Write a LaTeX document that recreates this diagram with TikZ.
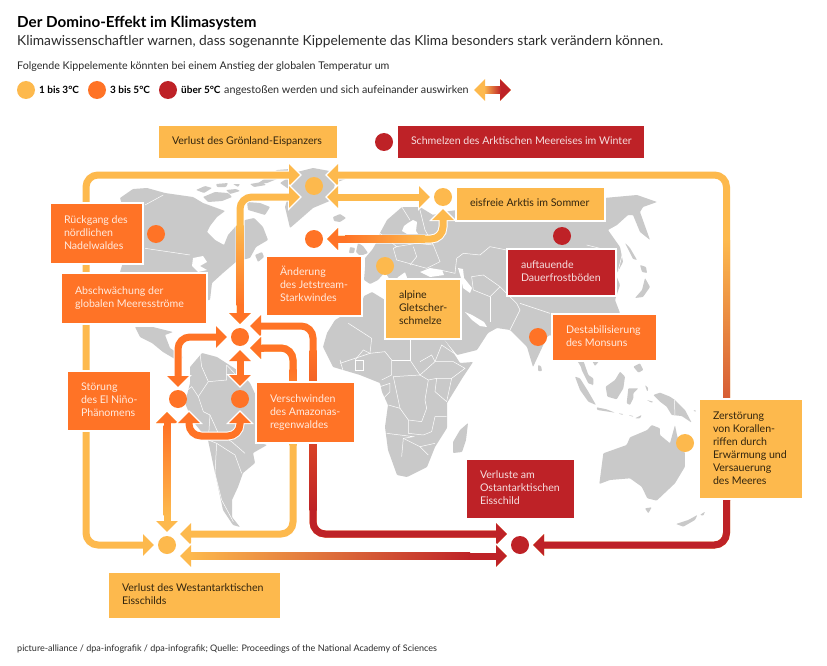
\documentclass[tikz,border=0pt]{standalone}
\usepackage{fontspec}
\setmainfont{Lato}
\usetikzlibrary{arrows.meta,calc}
\definecolor{kyel}{HTML}{FDB94D}
\definecolor{kora}{HTML}{FF7326}
\definecolor{kred}{HTML}{BE2227}
\definecolor{kmap}{HTML}{C9C9C9}
\definecolor{ktxt}{HTML}{2B2B2B}
\tikzset{
  tipn/.tip={Triangle[length=11pt,width=21pt]},
  htip/.tip={Triangle[length=14pt,width=27pt]},
  conn/.style={line width=7pt,rounded corners=12pt,{tipn}-{tipn},
    preaction={draw=white,line width=9pt,{htip}-{htip},shorten >=-2pt,shorten <=-2pt}},
  over/.style={line width=7pt,rounded corners=12pt,-{tipn}},
  dot/.style={circle,minimum size=18pt,inner sep=0pt},
  ydot/.style={dot,fill=kyel},
  odot/.style={dot,fill=kora},
  rdot/.style={dot,fill=kred},
  kb/.style={rectangle,draw=white,line width=2.4pt,inner sep=0pt,outer sep=0pt,font=\fontsize{10.6}{13}\selectfont},
  ybox/.style={kb,fill=kyel,text=black!80!kyel},
  obox/.style={kb,fill=kora,text=white!85!kora},
  rbox/.style={kb,fill=kred,text=white!85!kred},
  land/.style={fill=kmap,rounded corners=0.8pt},
  bd/.style={draw=white,line width=0.5pt},
  tx/.style={anchor=base west,inner sep=0pt,text=ktxt},
}
\newcommand\kbox[8]{%
  \pgfmathsetmacro\kw{#5-#3}\pgfmathsetmacro\kh{#6-#4}%
  \node[#2,minimum width=\kw pt+2.4pt,minimum height=\kh pt+2.4pt] (#1) at ({(#3+#5)/2},{(#4+#6)/2})
    {\makebox[\kw pt][l]{\hspace*{#7pt}\raisebox{-1pt}{\begin{tabular}{@{}l@{}}#8\end{tabular}}}};}
\newcommand\vs[5]{\shade[top color=#4,bottom color=#5] (#1-3.5,#2) rectangle (#1+3.5,#3);}
\newcommand\hs[5]{\shade[left color=#4,right color=#5] (#2,#1-3.5) rectangle (#3,#1+3.5);}
\begin{document}
\begin{tikzpicture}[x=1pt,y=-1pt]
\useasboundingbox (0,0) rectangle (827,666);
\fill[white] (0,0) rectangle (827,666);
% ---------- map ----------
% North America
\fill[land] (120,198)--(133,189)--(147,188)--(165,193)--(193,197)--(203,203)--(225,211)--(217,217)--(210,226)--(207,232)--(215,240)--(224,245)--(228,235)--(236,226)--(245,220)--(254,218)--(263,227)--(268,240)--(256,247)--(250,258)--(237,261)--(223,273)--(212,283)--(210,300)--(150,300)--(120,272)--(130,240)--(125,215)--cycle;
\fill[white] (193,258)--(203,256)--(207,262)--(200,266)--(207,270)--(198,272)--(192,266)--cycle;
\fill[land] (255,255)--(262,252)--(264,257)--(258,262)--cycle;
\fill[land] (135,327)--(153,327)--(173,332)--(165,335)--(170,348)--(183,357)--(180,362)--(163,352)--(152,343)--(140,337)--cycle;
% Arctic islands
\fill[land] (196,190)--(205,186)--(212,188)--(204,193)--cycle;
\fill[land] (216,184)--(228,183)--(226,187)--(217,187)--cycle;
\fill[land] (233,184)--(240,184)--(238,187)--cycle;
\fill[land] (250,184)--(262,182)--(266,185)--(254,187)--cycle;
\fill[land] (203,197)--(215,192)--(228,193)--(232,197)--(222,201)--(208,202)--cycle;
\fill[land] (226,190)--(236,189)--(240,191)--(230,194)--cycle;
\fill[land] (247,202)--(260,203)--(270,207)--(265,215)--(255,212)--(248,210)--cycle;
\fill[land] (257,184)--(277,170)--(290,169)--(287,175)--(267,183)--cycle;
% Greenland, Iceland
\fill[land] (280,183)--(297,172)--(313,168)--(335,172)--(348,178)--(335,183)--(332,200)--(313,208)--(297,222)--(290,228)--(285,207)--(290,190)--cycle;
\fill[land] (333,217)--(340,214)--(346,218)--(340,222)--(334,221)--cycle;
% British Isles
\fill[land] (358,243)--(363,246)--(368,253)--(360,256)--(356,252)--cycle;
\fill[land] (350,247)--(355,248)--(354,253)--(349,253)--cycle;
% Eurasia
\fill[land] (365,258)--(372,250)--(378,240)--(380,233)--(387,220)--(402,207)--(420,207)--(433,215)--(443,212)--(457,210)--(510,188)--(570,188)--(604,198)--(637,195)--(657,202)--(643,207)--(640,212)--(650,240)--(640,232)--(633,215)--(628,215)--(617,225)--(608,230)--(620,247)--(623,262)--(616,275)--(620,285)--(615,300)--(620,313)--(610,330)--(600,350)--(585,345)--(580,360)--(590,378)--(593,386)--(586,375)--(578,362)--(565,345)--(550,335)--(547,337)--(533,367)--(527,347)--(510,330)--(497,328)--(488,333)--(477,350)--(457,355)--(443,338)--(432,318)--(440,300)--(425,287)--(415,282)--(410,285)--(405,272)--(398,277)--(392,283)--(385,272)--(378,280)--(370,284)--(364,280)--(365,268)--cycle;
\fill[white] (408,223)--(413,220)--(417,222)--(416,231)--(418,234)--(407,234)--(402,231)--(404,226)--cycle;
\fill[white] (420,272)--(430,268)--(442,270)--(444,275)--(430,277)--cycle;
\fill[white] (458,268)--(463,269)--(464,278)--(472,288)--(470,293)--(463,288)--(461,278)--cycle;
\fill[white] (465,312)--(472,315)--(484,322)--(487,327)--(480,326)--(472,320)--cycle;
\fill[land] (625,243)--(630,248)--(637,260)--(633,259)--cycle;
\fill[land] (640,265)--(646,267)--(647,273)--(642,272)--cycle;
\fill[land] (645,278)--(650,287)--(643,297)--(635,298)--(642,290)--cycle;
\fill[land] (538,365)--(541,366)--(542,371)--(538,371)--cycle;
% Africa
\fill[land] (327,333)--(335,320)--(347,313)--(360,308)--(364,296)--(372,292)--(385,300)--(440,300)--(443,338)--(453,352)--(460,363)--(473,362)--(463,377)--(447,403)--(447,428)--(435,447)--(427,467)--(407,477)--(397,475)--(388,450)--(385,427)--(388,405)--(382,392)--(380,383)--(360,375)--(333,367)--(323,347)--cycle;
\fill[land] (468,423)--(466,440)--(462,452)--(453,453)--(453,442)--(460,430)--cycle;
% South America
\fill[land] (190,367)--(202,353)--(217,357)--(237,370)--(250,383)--(258,400)--(257,442)--(267,445)--(253,453)--(255,463)--(243,473)--(238,487)--(232,500)--(232,517)--(240,527)--(233,525)--(223,510)--(215,473)--(208,440)--(192,420)--(185,403)--(190,383)--cycle;
% Australia and Southeast Asia
\begin{scope}[shift={(560,350)},x=.3333pt,y=-.3333pt]
\fill[land] (118,402)--(130,310)--(200,285)--(210,262)--(262,240)--(275,225)--(300,235)--(300,255)--(330,280)--(345,225)--(352,260)--(375,310)--(375,350)--(345,400)--(290,452)--(262,445)--(245,410)--(210,385)--(150,390)--cycle;
\fill[land] (255,475)--(275,472)--(265,490)--cycle;
\fill[land] (348,522)--(385,510)--(412,495)--(405,510)--(370,530)--cycle;
\fill[land] (420,495)--(435,485)--(430,497)--cycle;
\fill[land] (280,135)--(300,128)--(330,140)--(345,150)--(375,180)--(395,218)--(365,198)--(335,195)--(320,170)--(300,155)--cycle;
\fill[land] (45,80)--(60,85)--(85,125)--(108,165)--(85,155)--(60,120)--cycle;
\fill[land] (137,110)--(165,90)--(180,65)--(195,80)--(190,115)--(170,148)--(142,140)--cycle;
\fill[land] (205,115)--(235,115)--(220,130)--(220,145)--(210,165)--(200,160)--cycle;
\fill[land] (110,172)--(140,178)--(165,188)--(145,185)--(112,180)--cycle;
\fill[land] (175,190)--(190,192)--(188,195)--cycle;
\fill[land] (205,195)--(220,198)--(218,200)--cycle;
\fill[land] (225,205)--(245,195)--(240,205)--cycle;
\fill[land] (260,150)--(280,155)--(275,158)--cycle;
\fill[land] (255,105)--(265,115)--(262,125)--cycle;
\fill[land] (400,180)--(410,183)--(403,185)--cycle;
\fill[land] (60,35)--(70,32)--(85,75)--(100,85)--(100,105)--(85,100)--(65,60)--cycle;
\fill[land] (95,30)--(120,30)--(105,48)--cycle;
\fill[land] (220,50)--(240,40)--(250,60)--(235,68)--cycle;
\draw[bd] (343,150)--(345,195);
\end{scope}
% borders
\begin{scope}[shift={(100,160)},x=.3333pt,y=-.3333pt]
\draw[bd] (135,135)--(190,105);
\draw[bd] (135,265)--(270,285);
\end{scope}
\begin{scope}[shift={(160,340)},x=.3333pt,y=-.3333pt]
\draw[bd] (120,40)--(125,80)--(145,125)--(115,170)--(130,215)--(150,225)--(175,280)--(215,305)--(255,340);
\draw[bd] (70,160)--(95,140)--(115,170);
\draw[bd] (145,125)--(200,120)--(200,75);
\draw[bd] (170,310)--(165,400)--(185,480)--(220,545);
\draw[bd] (170,310)--(225,345)--(245,400);
\draw[bd] (150,225)--(145,300)--(170,310);
\draw[bd] (200,75)--(228,105);
\end{scope}
\begin{scope}[shift={(340,320)},x=.3333pt,y=-.3333pt]
\draw[bd] (0,130)--(90,100)--(95,55)--(25,10);
\draw[bd] (90,100)--(135,95)--(155,120)--(155,165)--(125,180);
\draw[bd] (155,120)--(210,120)--(210,60);
\draw[bd] (210,120)--(240,165)--(285,125)--(305,75)--(350,105);
\draw[bd] (240,165)--(160,170)--(180,265)--(145,255);
\draw[bd] (180,265)--(205,300)--(245,305)--(260,265)--(255,240)--(265,180)--(240,165);
\draw[bd] (265,180)--(290,175)--(285,215)--(320,245);
\draw[bd] (290,175)--(335,175)--(320,245);
\draw[bd] (335,175)--(375,145)--(340,125)--(285,125);
\draw[bd] (205,300)--(205,340)--(250,345)--(275,335)--(285,290)--(320,290);
\draw[bd] (140,340)--(220,350)--(190,355)--(185,410);
\draw[bd] (190,355)--(240,380)--(265,405);
\draw[bd] (240,380)--(285,370);
\draw[bd] (0,120)--(10,155);
\draw[bd] (45,120)--(70,120)--(70,150)--(45,150)--cycle;
\draw[bd] (90,100)--(70,90)--(45,120);
\draw[bd] (120,200)--(150,190)--(150,215)--(130,235);
\draw[bd] (285,125)--(275,105)--(240,125);
\end{scope}
\begin{scope}[shift={(330,190)},x=.3333pt,y=-.3333pt]
\draw[bd] (380,205)--(400,190)--(450,195)--(480,170)--(530,180);
\draw[bd] (280,250)--(330,240)--(375,250)--(380,205);
\draw[bd] (150,130)--(200,170)--(260,160)--(310,165)--(330,215)--(290,235)--(200,210)--(190,175)--(200,170);
\draw[bd] (250,170)--(260,200)--(240,225);
\draw[bd] (430,300)--(480,320)--(510,290);
\draw[bd] (480,320)--(480,395);
\draw[bd] (530,310)--(560,340)--(570,360)--(540,420);
\draw[bd] (570,340)--(660,370);
\draw[bd] (215,50)--(240,90);
\draw[bd] (270,60)--(285,120)--(310,165);
\draw[bd] (430,300)--(425,260)--(460,255)--(510,290)--(530,310);
\end{scope}
\begin{scope}[shift={(420,120)},x=.3333pt,y=-.3333pt]
\draw[bd] (500,375)--(540,385)--(590,410);
\draw[bd] (615,370)--(600,430)--(590,470);
\end{scope}
% ---------- dots ----------
\node[ydot] (dg) at (314,186) {};
\node[ydot] (da) at (443,197) {};
\node[odot] (dj) at (314,239) {};
\node[odot] (dn) at (156,234) {};
\node[ydot] (dl) at (385,266) {};
\node[rdot] (dp) at (562,236) {};
\node[rdot] (dw) at (384,142) {};
\node[odot] (dm) at (538,337) {};
\node[odot] (dk) at (240,337) {};
\node[odot] (de) at (178,399) {};
\node[odot] (dz) at (240,399) {};
\node[ydot] (dc) at (685,443) {};
\node[ydot] (dv) at (167,545) {};
\node[rdot] (do) at (520,545) {};
% ---------- connectors ----------
% Groenland <-> West Antarctic, left loop
\draw[conn,kyel] ($(dg)+(-14,-11)$) -- (86,175) -- (86,545) -- ($(dv)+(-13,0)$);
% Groenland <-> East Antarctic, right loop
\draw[conn,kyel] ($(dg)+(13,-11)$) -- (726.5,175) -- (726.5,545) -- ($(do)+(13,0)$);
\vs{726.5}{240}{500}{kyel}{kred}
\draw[over,kred] (726.5,499) -- (726.5,545) -- ($(do)+(13,0)$);
% Groenland <-> Arctic
\draw[conn,kyel] ($(dg)+(13,11)$) -- ($(da)+(-13,0)$);
% Groenland <-> Ocean currents
\draw[conn,kyel] ($(dg)+(-14,11)$) -- (240,197) -- ($(dk)+(0,-13)$);
\vs{240}{225}{305}{kyel}{kora}
\draw[over,kora] (240,304) -- ($(dk)+(0,-13)$);
% Jetstream <-> Arctic
\draw[conn,kyel] ($(dj)+(13,0)$) -- (443,239) -- ($(da)+(0,12)$);
\draw[over,kora] (346,239) -- ($(dj)+(13,0)$);
\hs{239}{345}{425}{kora}{kyel}
% Ocean currents <-> East Antarctic
\draw[conn,kora] ($(dk)+(10,-11)$) -- (313,326) -- (313,534) -- ($(do)+(-13,-11)$);
\vs{313}{350}{510}{kora}{kred}
\draw[over,kred] (313,509) -- (313,534) -- ($(do)+(-13,-11)$);
% Ocean currents <-> West Antarctic via Amazon
\draw[conn,kyel] ($(dk)+(10,11)$) -- (293,348) -- (293,534) -- ($(dv)+(13,-11)$);
\draw[over,kora,-] (293,370) -- (293,348) -- (262,348);
\draw[over,kora] (264,348) -- ($(dk)+(10,11)$);
\vs{293}{369}{445}{kora}{kyel}
% West <-> East Antarctic
\draw[conn,kyel] ($(dv)+(13,11)$) -- ($(do)+(-13,11)$);
\hs{556}{190}{470}{kyel}{kred}
\draw[over,kred] (469,556) -- ($(do)+(-13,11)$);
% El Nino <-> West Antarctic
\draw[conn,kyel] ($(de)+(-11,13)$) -- ($(dv)+(0,-13)$);
\draw[over,kora] (167,426) -- ($(de)+(-11,13)$);
\vs{167}{425}{515}{kora}{kyel}
% El Nino <-> Ocean currents
\draw[conn,kora] ($(de)+(0,-12)$) -- (178,337) -- ($(dk)+(-13,0)$);
% Ocean currents <-> Amazon
\draw[conn,kora] ($(dk)+(0,13)$) -- ($(dz)+(0,-13)$);
% El Nino <-> Amazon
\draw[conn,kora] ($(de)+(11,13)$) -- (189,436) -- (240,436) -- ($(dz)+(0,13)$);
% ---------- boxes ----------
\kbox{bg}{ybox}{159}{126}{337}{158}{13}{Verlust des Grönland-Eispanzers}
\kbox{bw}{rbox}{398}{126}{644}{158}{13}{Schmelzen des Arktischen Meereises im Winter}
\kbox{bn}{obox}{51}{204}{142}{263}{13}{Rückgang des\\nördlichen\\Nadelwaldes}
\kbox{bm}{obox}{62}{274}{206}{323}{13}{Abschwächung der\\globalen Meeresströme}
\kbox{bj}{obox}{267}{257}{361}{315}{13}{Änderung\\des Jetstream-\\Starkwindes}
\kbox{bl}{ybox}{386}{280}{460}{338}{13}{alpine\\Gletscher-\\schmelze}
\kbox{ba}{ybox}{457}{188}{604}{220}{13}{eisfreie Arktis im Sommer}
\kbox{bp}{rbox}{508}{250}{615}{295}{13}{auftauende\\Dauerfrostböden}
\kbox{bd1}{obox}{553}{315}{656}{360}{13}{Destabilisierung\\des Monsuns}
\kbox{be}{obox}{68}{372}{150}{430}{13}{Störung\\des El Niño-\\Phänomens}
\kbox{bz}{obox}{257}{383}{354}{442}{13}{Verschwinden\\des Amazonas-\\regenwaldes}
\kbox{bc}{ybox}{700}{400}{802}{498}{13}{Zerstörung\\von Korallen-\\riffen durch\\Erwärmung und\\Versauerung\\des Meeres}
\kbox{bo}{rbox}{467}{460}{574}{518}{13}{Verluste am\\Ostantarktischen\\Eisschild}
\kbox{bv}{ybox}{109}{573}{280}{618}{13}{Verlust des Westantarktischen\\Eisschilds}
% ---------- heading and legend ----------
\node[tx,text=black,font=\fontsize{15.2}{18}\bfseries\selectfont] (title) at (17,28) {Der Domino-Effekt im Klimasystem};
\node[tx,font=\fontsize{13.76}{17}\selectfont] (sub) at (17,46) {Klimawissenschaftler warnen, dass sogenannte Kippelemente das Klima besonders stark verändern können.};
\node[tx,font=\fontsize{10.66}{13}\selectfont] (fol) at (17,70) {Folgende Kippelemente könnten bei einem Anstieg der globalen Temperatur um};
\node[ydot] (l1) at (26,90) {};
\node[odot] (l2) at (97,90) {};
\node[rdot] (l3) at (168,90) {};
\node[tx,text=black,font=\fontsize{10}{13}\bfseries\selectfont] (t1) at (39,94) {1 bis 3°C};
\node[tx,text=black,font=\fontsize{10}{13}\bfseries\selectfont] (t2) at (110,94) {3 bis 5°C};
\node[tx,text=black,font=\fontsize{10}{13}\bfseries\selectfont] (t3) at (181,94) {über 5°C};
\node[tx,font=\fontsize{10.75}{13}\selectfont] (t4) at (224,94) {angestoßen werden und sich aufeinander auswirken};
\coordinate (la) at (474,90);
\coordinate (lb) at (511,90);
\draw[conn,kyel] (la) -- (lb);
\draw[over,kred] (495,90) -- (lb);
\hs{90}{484}{501}{kyel}{kred}
\node[tx,font=\fontsize{9.02}{12}\selectfont] (foot) at (17,651) {picture-alliance / dpa-infografik / dpa-infografik; Quelle: Proceedings of the National Academy of Sciences};
\end{tikzpicture}
\end{document}
